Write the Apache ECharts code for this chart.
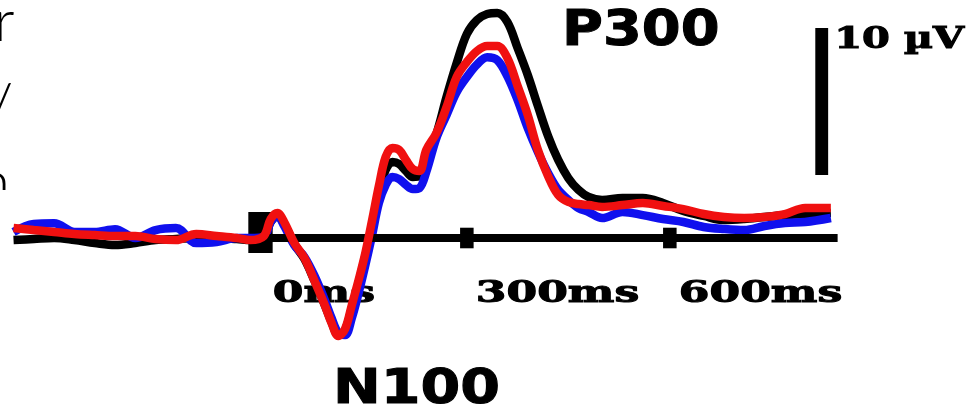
<!DOCTYPE html>
<html>
<head>
<meta charset="utf-8">
<script src="https://cdn.jsdelivr.net/npm/echarts@6/dist/echarts.min.js"></script>
<style>
html,body{margin:0;padding:0;background:#fff;}
#chart{width:977px;height:415px;}
</style>
</head>
<body>
<div id="chart"></div>
<script>
// Time points (ms)
var times = [-370,-340,-310,-280,-250,-220,-190,-160,-130,-100,-70,-40,-20,
  0,10,20,30,45,60,75,90,
  100,110,120,130,140,150,160,170,180,190,200,210,220,230,240,
  255,270,285,300,315,330,345,360,375,390,405,420,435,450,465,480,
  500,530,560,590,620,650,680,710,740,770,800,838];

// Amplitudes (µV), positive up
var blackWave = [-0.14,-0.07,0,-0.14,-0.34,-0.48,-0.34,-0.14,-0.07,0,0,-0.07,-0.14,
  0.07,1.09,1.50,0.95,-0.41,-1.43,-2.93,-4.56,
  -5.71,-6.60,-6.26,-4.76,-3.06,-1.22,0.88,2.99,4.63,5.17,5.03,4.56,4.15,4.22,5.31,
  7.07,9.59,11.90,13.88,14.83,15.24,15.31,14.69,12.93,11.09,8.98,6.94,5.31,4.08,3.27,2.79,
  2.59,2.72,2.72,2.38,1.84,1.50,1.22,1.29,1.43,1.56,1.63,1.70];

var blueWave = [0.41,0.95,1.0,0.41,0.40,0.60,0,0.54,0.68,-0.34,-0.27,0,0,
  0.07,1.09,1.50,0.82,-0.48,-1.29,-2.59,-4.22,
  -5.44,-6.46,-6.60,-5.44,-3.74,-1.84,0.20,2.38,3.61,4.15,4.01,3.61,3.33,3.40,4.49,
  6.80,8.37,9.93,10.95,11.8,12.3,12.1,11.0,9.39,7.48,5.85,4.42,3.27,2.59,2.04,1.77,
  1.36,1.77,1.56,1.29,1.09,0.75,0.61,0.54,0.82,1.02,1.09,1.36];

var redWave = [0.68,0.54,0.41,0.27,0.20,0.14,0.14,-0.07,-0.14,0.27,0.14,0,-0.14,
  0.14,1.29,1.70,1.09,-0.34,-1.36,-2.93,-4.56,
  -5.78,-6.67,-6.19,-4.56,-2.86,-1.02,1.22,3.54,5.51,6.12,5.99,5.31,4.69,4.56,5.99,
  7.14,8.91,10.95,11.97,12.72,13.06,13.06,12.24,10.34,8.37,5.99,4.22,2.93,2.45,2.31,2.24,
  2.11,2.24,2.38,2.18,1.97,1.63,1.43,1.36,1.43,1.63,2.04,2.04];

// Time axis ticks and labels
var tickTimes = [300, 600];
var labelTimes = [0, 300, 600];
var tickLabels = ['0ms', '300ms', '600ms'];
var axisEnd = 848;          // ms, end of the drawn time axis
var scaleBar = [4.29, 14.29]; // 10 µV calibration bar (µV)
var scaleBarTime = [815, 834];
var scaleLabel = '10 µV';
var peakLabels = ['P300', 'N100'];
var sideFragments = ['r', '/', 'n'];

function pairs(ys) {
  return times.map(function (t, i) { return [t, ys[i]]; });
}

var chart = echarts.init(document.getElementById('chart'), null, {renderer: 'canvas', width: 977, height: 415});

var tickAreas = tickTimes.map(function (t) {
  return [{coord: [t - 10, 0.7]}, {coord: [t + 10, -0.7]}];
});

var option = {
  animation: false,
  backgroundColor: '#ffffff',
  grid: {left: 0, right: 0, top: 0, bottom: 0, containLabel: false},
  xAxis: {type: 'value', min: -390, max: 1054, show: false},
  yAxis: {type: 'value', min: -12.04, max: 16.19, show: false},
  series: [
    {
      name: 'axis', type: 'line', data: [[0, 0]], showSymbol: false, symbol: 'none',
      lineStyle: {opacity: 0}, silent: true, z: 2,
      markLine: {
        silent: true, symbol: ['none', 'none'], label: {show: false},
        lineStyle: {color: '#000', width: 8, type: 'solid'},
        data: [[{coord: [-3, 0]}, {coord: [axisEnd, 0]}]]
      },
      markArea: {
        silent: true, label: {show: false},
        itemStyle: {color: '#000', opacity: 1},
        data: [
          [{coord: [-23, 1.77]}, {coord: [13, -1.02]}]
        ].concat(tickAreas).concat([
          [{coord: [scaleBarTime[0], scaleBar[1]]}, {coord: [scaleBarTime[1], scaleBar[0]]}]
        ])
      }
    },
    {
      name: 'black', type: 'line', data: pairs(blackWave), smooth: 0.35, showSymbol: false,
      symbol: 'none', lineStyle: {color: '#000000', width: 8.5}, z: 3
    },
    {
      name: 'blue', type: 'line', data: pairs(blueWave), smooth: 0.35, showSymbol: false,
      symbol: 'none', lineStyle: {color: '#1010ee', width: 8.5}, z: 4
    },
    {
      name: 'red', type: 'line', data: pairs(redWave), smooth: 0.35, showSymbol: false,
      symbol: 'none', lineStyle: {color: '#f01010', width: 8.5}, z: 5
    }
  ]
};
chart.setOption(option);

function txt(x, y, s, font, sx, z) {
  return {
    type: 'text', x: x, y: y, scaleX: sx, z: z,
    style: {text: s, font: font, fill: '#000', stroke: '#000', lineWidth: 1,
      textAlign: 'left', textVerticalAlign: 'middle', align: 'left', verticalAlign: 'middle'}
  };
}

var labelY = chart.convertToPixel({yAxisIndex: 0}, -3.85);
var serif = 'bold 29px "DejaVu Serif"';
var graphics = labelTimes.map(function (t, i) {
  var x = chart.convertToPixel({xAxisIndex: 0}, t) + 9;
  return txt(x, labelY, tickLabels[i], serif, 1.52, 0);
});
var sbx = chart.convertToPixel({xAxisIndex: 0}, scaleBarTime[1]) + 6;
var sby = chart.convertToPixel({yAxisIndex: 0}, scaleBar[1] - 0.85);
graphics.push(txt(sbx, sby, scaleLabel, serif, 1.38, 10));
graphics.push(txt(562, 32, peakLabels[0], 'bold 49px "DejaVu Sans"', 1.14, 10));
graphics.push(txt(333, 391, peakLabels[1], 'bold 48px "DejaVu Sans"', 1.19, 10));

// cut-off fragments of neighbouring text at the left edge
var fragPos = [[-6, 22], [-12, 105], [-22, 183]];
sideFragments.forEach(function (s, i) {
  graphics.push({
    type: 'text', x: fragPos[i][0], y: fragPos[i][1], z: 0,
    style: {text: s, font: '300 58px "Lato", "Open Sans", sans-serif', fill: '#000',
      textAlign: 'left', textVerticalAlign: 'middle', align: 'left', verticalAlign: 'middle'}
  });
});
graphics.push({
  type: 'rect', z: 1, shape: {x: 0, y: 190, width: 60, height: 26},
  style: {fill: '#ffffff'}
});
chart.setOption({graphic: graphics});
</script>
</body>
</html>
